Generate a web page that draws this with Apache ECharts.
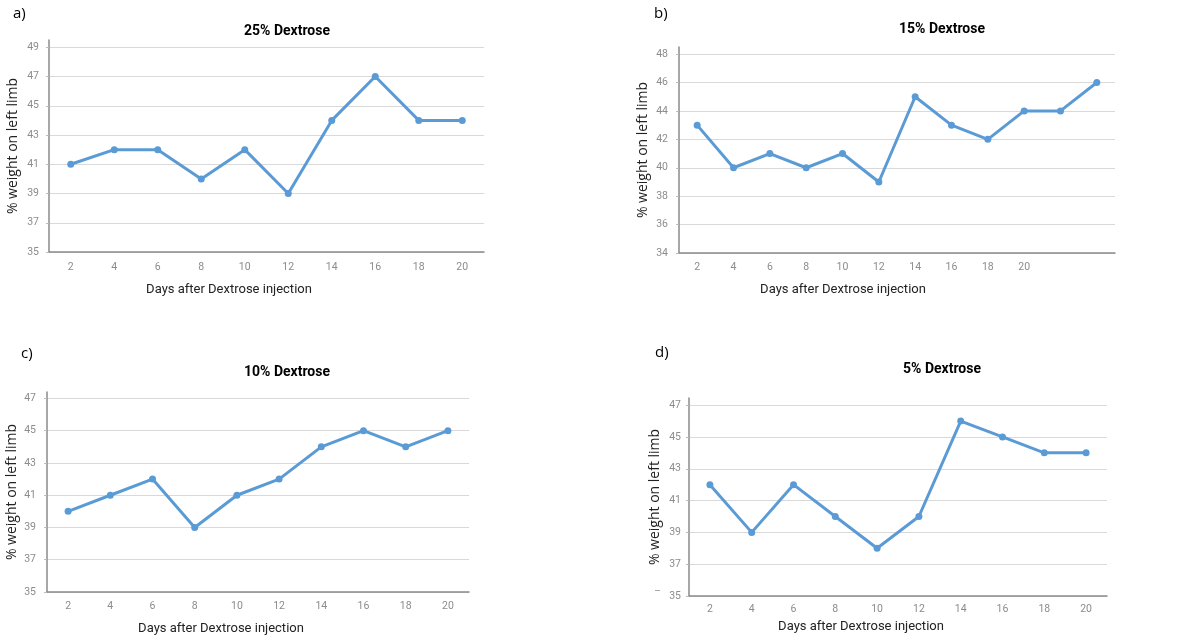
<!DOCTYPE html>
<html>
<head>
<meta charset="utf-8">
<script src="https://cdn.jsdelivr.net/npm/echarts@6/dist/echarts.min.js"></script>
<style>
html,body{margin:0;padding:0;background:#fff;}
#chart{width:1197px;height:641px;}
</style>
</head>
<body>
<div id="chart"></div>
<script>
// ---- data ----
const daysA = ['2','4','6','8','10','12','14','16','18','20'];
const daysB = ['2','4','6','8','10','12','14','16','18','20',' ','  '];
const daysC = ['2','4','6','8','10','12','14','16','18','20'];
const daysD = ['2','4','6','8','10','12','14','16','18','20'];

const dextrose25 = [41,42,42,40,42,39,44,47,44,44];
const dextrose15 = [43,40,41,40,41,39,45,43,42,44,44,46];
const dextrose10 = [40,41,42,39,41,42,44,45,44,45];
const dextrose5  = [42,39,42,40,38,40,46,45,44,44];

const yTicksA = [35,37,39,41,43,45,47,49];
const yTicksB = [34,36,38,40,42,44,46,48];
const yTicksC = [35,37,39,41,43,45,47];
const yTicksD = [35,37,39,41,43,45,47];

const titles = ['25% Dextrose','15% Dextrose','10% Dextrose','5% Dextrose'];
const panelLabels = ['a)','b)','c)','d)'];
const xName = 'Days after Dextrose injection';
const yName = '% weight on left limb';

// ---- styles ----
const BLUE = '#5B9BD5';
const NARROW = 'Roboto, "Open Sans", sans-serif';
const grids = [
  {left:49, top:40, width:435, height:212},
  {left:679, top:47, width:436, height:206},
  {left:47, top:392, width:422, height:200},
  {left:689, top:398, width:418, height:198}
];
const axisOvershoot = [0.5, 0.5, 0.4, 0.45];
const yTicks = [yTicksA, yTicksB, yTicksC, yTicksD];
const cats = [daysA, daysB, daysC, daysD];
const vals = [dextrose25, dextrose15, dextrose10, dextrose5];
const xNameCfg = [
  {gap:31, shift:75},
  {gap:30, shift:108},
  {gap:30, shift:74},
  {gap:24, shift:74}
];
const yNameGap = [29, 29, 28, 27];
const labelMargins = [10, 9, 9, 8];
const yLabelMargins = [10, 11, 11, 8];
const titlePos = [
  {x:287, y:24}, {x:942, y:22}, {x:287, y:365}, {x:942, y:362}
];
const panelPos = [
  {x:13, y:6}, {x:654, y:6}, {x:21, y:346}, {x:655, y:345}
];

const option = {
  animation:false,
  backgroundColor:'#fff',
  title: titles.map((t,i)=>({
    text:t, left:titlePos[i].x, top:titlePos[i].y, textAlign:'center', padding:0,
    textStyle:{fontFamily:NARROW, fontWeight:'bold', fontSize:14, color:'#000'}
  })),
  graphic: panelLabels.map((t,i)=>({
    type:'text', left:panelPos[i].x, top:panelPos[i].y,
    style:{text:t, fontFamily:'"Open Sans", sans-serif', fontSize:15, fill:'#000'}
  })).concat([{
    type:'text', left:655, top:582,
    style:{text:'_', fontFamily:NARROW, fontSize:11, fill:'#999'}
  }]),
  grid: grids.map(g=>Object.assign({containLabel:false}, g)),
  xAxis: cats.map((c,i)=>({
    type:'category', gridIndex:i, data:c, boundaryGap:true,
    name:xName, nameLocation:'middle', nameGap:xNameCfg[i].gap,
    nameTextStyle:{fontFamily:NARROW, fontSize:13, color:'#222', padding:[0,xNameCfg[i].shift,0,0]},
    axisLine:{show:true, lineStyle:{color:'#8a8a8a', width:1.5}},
    axisTick:{show:false},
    axisLabel:{fontFamily:NARROW, fontSize:10.5, color:'#8c8c8c', margin:labelMargins[i], interval:0},
    splitLine:{show:false}
  })),
  yAxis: yTicks.map((t,i)=>({
    type:'value', gridIndex:i, min:t[0], max:t[t.length-1]+axisOvershoot[i],
    name:yName, nameLocation:'middle', nameGap:yNameGap[i], nameRotate:90,
    nameTextStyle:{fontFamily:'"Open Sans", sans-serif', fontSize:14, color:'#222'},
    axisLine:{show:true, lineStyle:{color:'#8a8a8a', width:1.5}},
    axisTick:{show:true, length:3, lineStyle:{color:'#bbb'}, customValues:t},
    axisLabel:{fontFamily:NARROW, fontSize:10.5, color:'#8c8c8c', margin:yLabelMargins[i], customValues:t},
    splitLine:{show:true, lineStyle:{color:'#d9d9d9', width:1}}
  })),
  series: vals.map((v,i)=>({
    type:'line', xAxisIndex:i, yAxisIndex:i, data:v,
    symbol:'circle', symbolSize:7,
    lineStyle:{color:BLUE, width:3},
    itemStyle:{color:BLUE}
  }))
};

const chart = echarts.init(document.getElementById('chart'), null, {renderer:'canvas'});
chart.setOption(option);
</script>
</body>
</html>
